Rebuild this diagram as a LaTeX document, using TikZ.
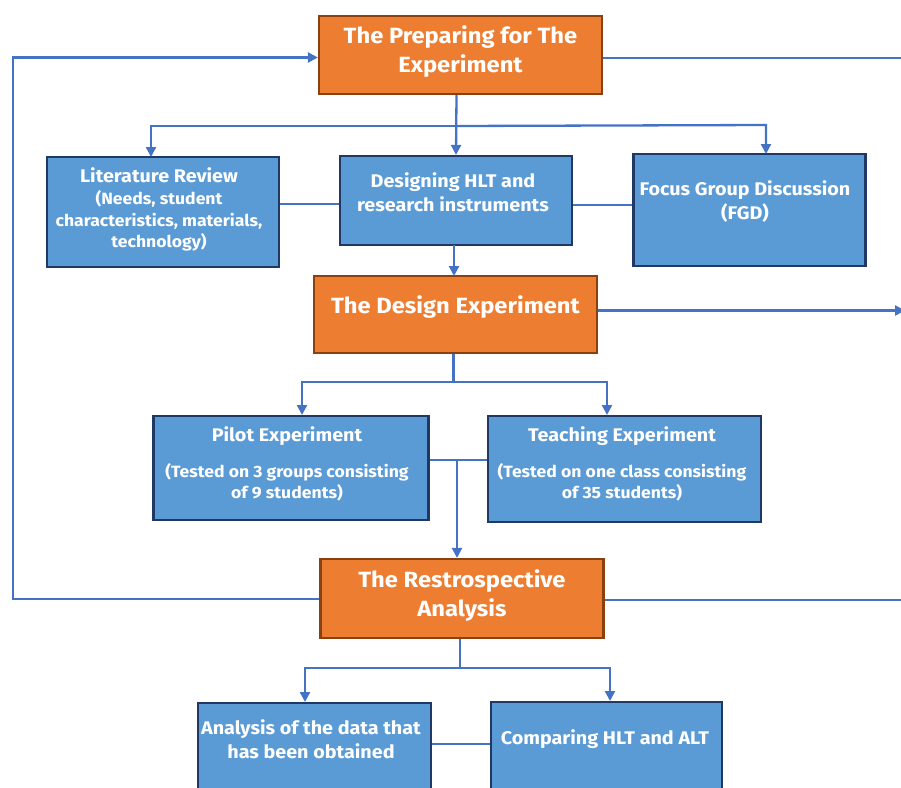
\documentclass[tikz,border=0pt]{standalone}
\usepackage{fontspec}
\setmainfont{Fira Sans}[FakeStretch=1.08]
\usetikzlibrary{arrows.meta}
\definecolor{orfill}{HTML}{ED7D31}
\definecolor{ordraw}{HTML}{8A400F}
\definecolor{blfill}{HTML}{5B9BD5}
\definecolor{bldraw}{HTML}{203864}
\definecolor{lnblue}{HTML}{4472C4}
\tikzset{
  phase/.style={draw=ordraw, fill=orfill, line width=2.2pt, inner sep=0pt},
  task/.style={draw=bldraw, fill=blfill, line width=2.2pt, inner sep=0pt},
  phasetxt/.style={text=white, font=\fontsize{22}{29}\selectfont\bfseries, align=center, inner sep=0pt},
  tasktxt/.style={text=white, font=\fontsize{18.3}{23.5}\selectfont\bfseries, align=center, inner sep=0pt},
  subtxt/.style={text=white, font=\fontsize{16.3}{21.5}\selectfont\bfseries, align=center, inner sep=0pt},
  link/.style={draw=lnblue, line width=2.3pt},
  flow/.style={link, -{Triangle[length=10pt,width=10pt]}},
}
\begin{document}
\begin{tikzpicture}[x=1pt,y=-1pt]
\useasboundingbox (0,0) rectangle (901,787);

% phase boxes
\node[phase, minimum width=283pt, minimum height=78pt] (prep) at (460.5,55) {};
\node[phase, minimum width=283pt, minimum height=77pt] (design) at (455.5,314.5) {};
\node[phase, minimum width=283pt, minimum height=79pt] (retro) at (462,598.5) {};

% task boxes
\node[task, minimum width=232pt, minimum height=110pt] (lit) at (163,212) {};
\node[task, minimum width=232pt, minimum height=89pt] (hlt) at (456,200.5) {};
\node[task, minimum width=232pt, minimum height=112pt] (fgd) at (749.5,210) {};
\node[task, minimum width=275pt, minimum height=104pt] (pilot) at (291,468) {};
\node[task, minimum width=273pt, minimum height=106pt] (teach) at (624.5,469) {};
\node[task, minimum width=233pt, minimum height=110pt] (anal) at (314.5,758) {};
\node[task, minimum width=231pt, minimum height=110pt] (comp) at (606.5,757) {};

% texts
\node[phasetxt] (tprep) at (460.5,52) {The Preparing for The\\Experiment};
\node[phasetxt] (tdesign) at (455.5,307) {The Design Experiment};
\node[phasetxt] (tretro) at (462,596) {The Restrospective\\Analysis};
\node[tasktxt] (tlit) at (159,175.5) {Literature Review};
\node[subtxt] (slit) at (159,221) {(Needs, student\\characteristics, materials,\\technology)};
\node[tasktxt] (thlt) at (453,192) {Designing HLT and\\research instruments};
\node[tasktxt] (tfgd) at (745,201.5) {Focus Group Discussion\\(FGD)};
\node[tasktxt] (tpilot) at (287,436) {Pilot Experiment};
\node[subtxt] (spilot) at (287,482.5) {(Tested on 3 groups consisting\\of 9 students)};
\node[tasktxt] (tteach) at (622,436) {Teaching Experiment};
\node[subtxt] (steach) at (622,482.5) {(Tested on one class consisting\\of 35 students)};
\node[tasktxt] (tanal) at (311,739) {Analysis of the data that\\has been obtained};
\node[tasktxt] (tcomp) at (605,739) {Comparing HLT and ALT};

% helper points
\coordinate (loopL) at (13,599);
\coordinate (loopT) at (13,57.5);
\coordinate (edgeA) at (901,58);
\coordinate (edgeB) at (905,310.5);
\coordinate (edgeC) at (901,600);
\coordinate (splitA) at (456.5,126);
\coordinate (splitB) at (453.5,382);
\coordinate (joinP) at (457,460);
\coordinate (splitC) at (460,668);

% preparation stage
\draw[flow] (prep.south -| hlt.north) ++(0.5,0) -- (hlt.north);
\draw[flow] (splitA) -- (151,126) -- (151,157);
\draw[flow] (splitA) -- (766,125) -- (766,154);
\draw[link] (lit.east |- 0,204) -- (hlt.west |- 0,204);
\draw[link] (hlt.east |- 0,205) -- (fgd.west |- 0,205);
\draw[flow] (454,245) -- (454,276);

% design stage
\draw[link] (design.south -| splitB) -- (splitB);
\draw[flow] (splitB) -- (302,382) -- (302,415);
\draw[flow] (splitB) -- (607,382) -- (607,415);
\draw[link] (pilot.east |- joinP) -- (teach.west |- joinP);
\draw[flow] (joinP) -- (joinP |- retro.north);

% retrospective stage
\draw[link] (retro.south -| splitC) -- (splitC);
\draw[flow] (splitC) -- (305,668) -- (305,702);
\draw[flow] (splitC) -- (610,668) -- (610,701);
\draw[link] (anal.east |- 0,744) -- (comp.west |- 0,744);

% feedback and exit lines
\draw[flow] (retro.west |- loopL) -- (loopL) -- (loopT) -- (prep.west |- loopT);
\draw[link] (prep.east |- edgeA) -- (edgeA);
\draw[flow] (design.east |- edgeB) -- (edgeB);
\draw[link] (retro.east |- edgeC) -- (edgeC);
\end{tikzpicture}
\end{document}
